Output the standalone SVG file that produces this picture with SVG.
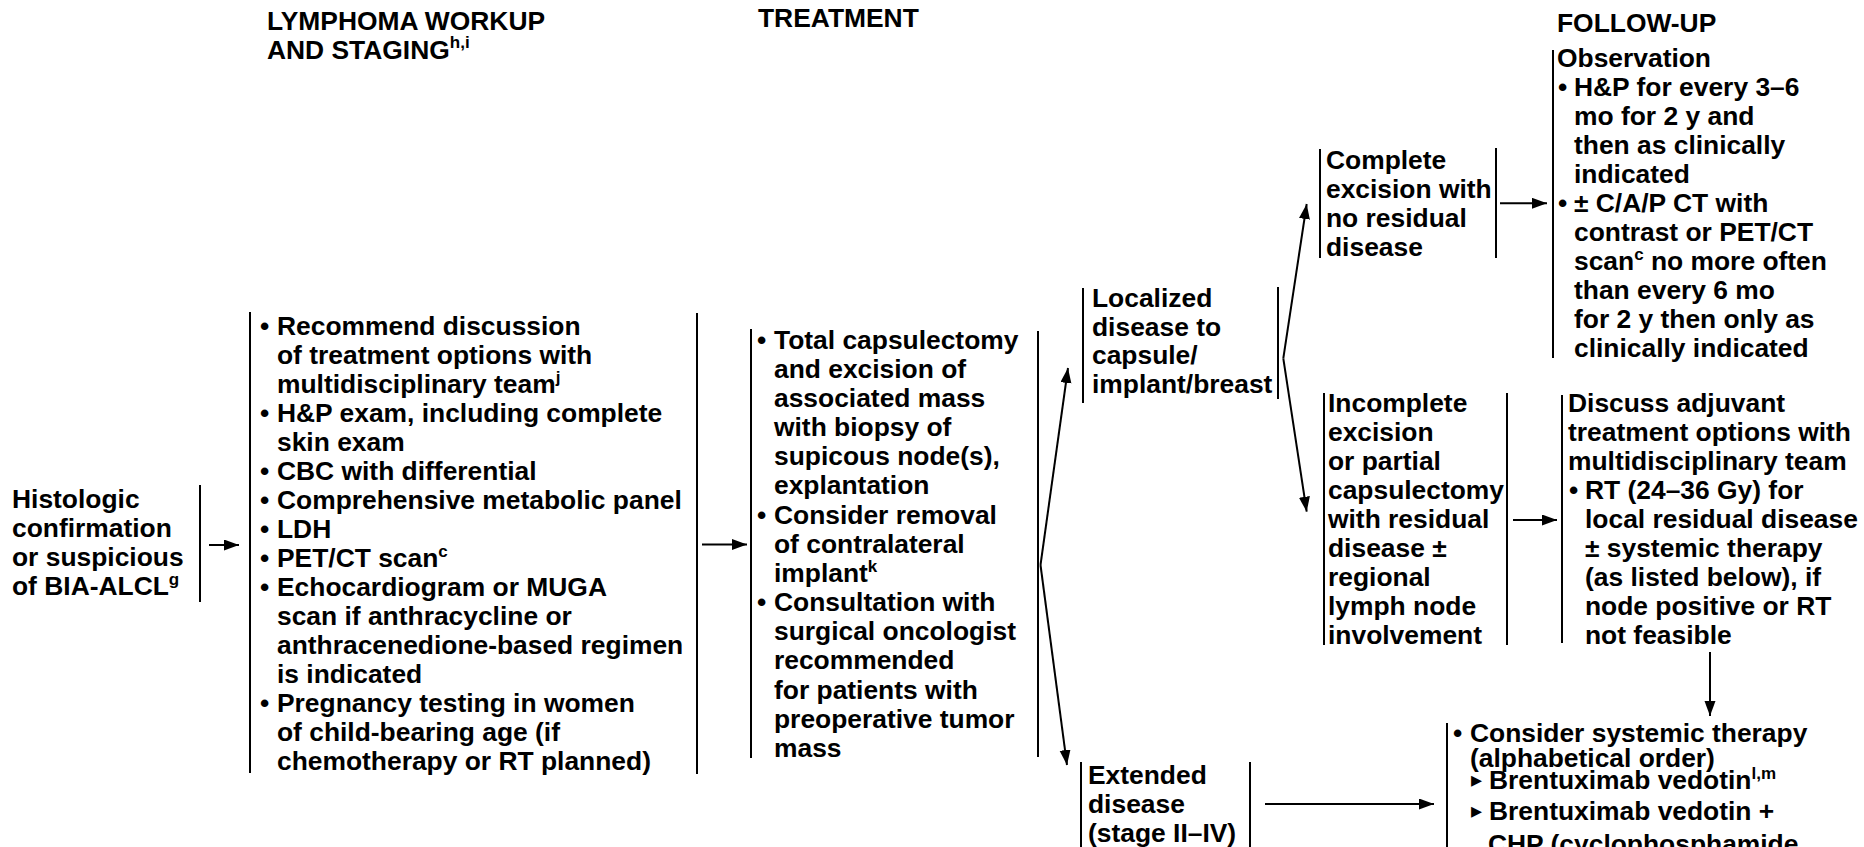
<svg xmlns="http://www.w3.org/2000/svg" width="1864" height="847" viewBox="0 0 1864 847">
  <defs>
    <style>
      text { font-family: "Liberation Sans", Arial, Helvetica, sans-serif; font-weight: bold; font-size: 26.4px; fill: #000; }
      .sup { font-size: 17px; }
      .tri { font-family: "DejaVu Sans", sans-serif; font-size: 22px; font-weight: normal; }
      .bar { stroke: #000; stroke-width: 2; fill: none; }
      .conn { stroke: #000; stroke-width: 2; fill: none; marker-end: url(#ah); }
    </style>
    <marker id="ah" markerUnits="userSpaceOnUse" markerWidth="16" markerHeight="12" refX="15" refY="5.5" orient="auto">
      <path d="M0,0 L15,5.5 L0,11 z" fill="#000"/>
    </marker>
  </defs>
  <rect width="1864" height="847" fill="#fff"/>

  <!-- column headings -->
  <g id="headings">
    <text x="267" y="30">LYMPHOMA WORKUP</text>
    <text x="267" y="59">AND STAGING<tspan class="sup" dy="-11">h,i</tspan></text>
    <text x="758" y="27">TREATMENT</text>
    <text x="1557" y="32">FOLLOW-UP</text>
  </g>

  <!-- entry point -->
  <g id="n-histologic">
    <text x="12" y="508">Histologic</text>
    <text x="12" y="537">confirmation</text>
    <text x="12" y="566">or suspicious</text>
    <text x="12" y="595">of BIA-ALCL<tspan class="sup" dy="-10">g</tspan></text>
    <line class="bar" x1="200" y1="485" x2="200" y2="602"/>
  </g>

  <!-- workup and staging -->
  <g id="n-workup">
    <line class="bar" x1="250" y1="312" x2="250" y2="773"/>
    <line class="bar" x1="697" y1="313" x2="697" y2="774"/>
    <text x="260" y="335">•</text>
    <text x="260" y="422">•</text>
    <text x="260" y="480">•</text>
    <text x="260" y="509">•</text>
    <text x="260" y="538">•</text>
    <text x="260" y="567">•</text>
    <text x="260" y="596">•</text>
    <text x="260" y="712">•</text>
    <text x="277" y="335">Recommend discussion</text>
    <text x="277" y="364">of treatment options with</text>
    <text x="277" y="393">multidisciplinary team<tspan class="sup" dy="-10">j</tspan></text>
    <text x="277" y="422">H&amp;P exam, including complete</text>
    <text x="277" y="451">skin exam</text>
    <text x="277" y="480">CBC with differential</text>
    <text x="277" y="509">Comprehensive metabolic panel</text>
    <text x="277" y="538">LDH</text>
    <text x="277" y="567">PET/CT scan<tspan class="sup" dy="-10">c</tspan></text>
    <text x="277" y="596">Echocardiogram or MUGA</text>
    <text x="277" y="625">scan if anthracycline or</text>
    <text x="277" y="654">anthracenedione-based regimen</text>
    <text x="277" y="683">is indicated</text>
    <text x="277" y="712">Pregnancy testing in women</text>
    <text x="277" y="741">of child-bearing age (if</text>
    <text x="277" y="770">chemotherapy or RT planned)</text>
  </g>

  <!-- primary treatment -->
  <g id="n-treatment">
    <line class="bar" x1="751" y1="329" x2="751" y2="758"/>
    <line class="bar" x1="1038" y1="331" x2="1038" y2="757"/>
    <text x="757" y="348.5">•</text>
    <text x="757" y="523.5">•</text>
    <text x="757" y="611">•</text>
    <text x="774" y="348.5">Total capsulectomy</text>
    <text x="774" y="377.7">and excision of</text>
    <text x="774" y="406.8">associated mass</text>
    <text x="774" y="436">with biopsy of</text>
    <text x="774" y="465.2">supicous node(s),</text>
    <text x="774" y="494.3">explantation</text>
    <text x="774" y="523.5">Consider removal</text>
    <text x="774" y="552.7">of contralateral</text>
    <text x="774" y="581.8">implant<tspan class="sup" dy="-10">k</tspan></text>
    <text x="774" y="611">Consultation with</text>
    <text x="774" y="640.2">surgical oncologist</text>
    <text x="774" y="669.3">recommended</text>
    <text x="774" y="698.5">for patients with</text>
    <text x="774" y="727.7">preoperative tumor</text>
    <text x="774" y="756.8">mass</text>
  </g>

  <!-- localized disease -->
  <g id="n-localized">
    <line class="bar" x1="1083" y1="288" x2="1083" y2="403"/>
    <line class="bar" x1="1278" y1="287" x2="1278" y2="399"/>
    <text x="1092" y="307">Localized</text>
    <text x="1092" y="335.7">disease to</text>
    <text x="1092" y="364.4">capsule/</text>
    <text x="1092" y="393">implant/breast</text>
  </g>

  <!-- extended disease -->
  <g id="n-extended">
    <line class="bar" x1="1081" y1="762" x2="1081" y2="847"/>
    <line class="bar" x1="1250" y1="762" x2="1250" y2="847"/>
    <text x="1088" y="784">Extended</text>
    <text x="1088" y="813">disease</text>
    <text x="1088" y="842">(stage II–IV)</text>
  </g>

  <!-- complete excision -->
  <g id="n-complete">
    <line class="bar" x1="1320" y1="149" x2="1320" y2="258"/>
    <line class="bar" x1="1496" y1="148" x2="1496" y2="258"/>
    <text x="1326" y="168.5">Complete</text>
    <text x="1326" y="197.7">excision with</text>
    <text x="1326" y="226.8">no residual</text>
    <text x="1326" y="256">disease</text>
  </g>

  <!-- incomplete excision -->
  <g id="n-incomplete">
    <line class="bar" x1="1324" y1="393" x2="1324" y2="645"/>
    <line class="bar" x1="1507" y1="393" x2="1507" y2="645"/>
    <text x="1328" y="411.7">Incomplete</text>
    <text x="1328" y="440.7">excision</text>
    <text x="1328" y="469.7">or partial</text>
    <text x="1328" y="498.7">capsulectomy</text>
    <text x="1328" y="527.7">with residual</text>
    <text x="1328" y="556.7">disease ±</text>
    <text x="1328" y="585.7">regional</text>
    <text x="1328" y="614.7">lymph node</text>
    <text x="1328" y="643.7">involvement</text>
  </g>

  <!-- observation follow-up -->
  <g id="n-observation">
    <line class="bar" x1="1553" y1="50" x2="1553" y2="358"/>
    <text x="1557" y="66.7">Observation</text>
    <text x="1558" y="95.8">•</text>
    <text x="1558" y="212">•</text>
    <text x="1574" y="95.8">H&amp;P for every 3–6</text>
    <text x="1574" y="124.8">mo for 2 y and</text>
    <text x="1574" y="153.9">then as clinically</text>
    <text x="1574" y="183">indicated</text>
    <text x="1574" y="212">± C/A/P CT with</text>
    <text x="1574" y="241.1">contrast or PET/CT</text>
    <text x="1574" y="270.2">scan<tspan class="sup" dy="-10">c</tspan><tspan dy="10"> no more often</tspan></text>
    <text x="1574" y="299.3">than every 6 mo</text>
    <text x="1574" y="328.3">for 2 y then only as</text>
    <text x="1574" y="357.4">clinically indicated</text>
  </g>

  <!-- adjuvant treatment discussion -->
  <g id="n-adjuvant">
    <line class="bar" x1="1562" y1="395" x2="1562" y2="643"/>
    <text x="1568" y="411.7">Discuss adjuvant</text>
    <text x="1568" y="440.7">treatment options with</text>
    <text x="1568" y="469.7">multidisciplinary team</text>
    <text x="1569" y="498.7">•</text>
    <text x="1585" y="498.7">RT (24–36 Gy) for</text>
    <text x="1585" y="527.7">local residual disease</text>
    <text x="1585" y="556.7">± systemic therapy</text>
    <text x="1585" y="585.7">(as listed below), if</text>
    <text x="1585" y="614.7">node positive or RT</text>
    <text x="1585" y="643.7">not feasible</text>
  </g>

  <!-- systemic therapy -->
  <g id="n-systemic">
    <line class="bar" x1="1447" y1="723" x2="1447" y2="847"/>
    <text x="1453" y="741.7">•</text>
    <text x="1470" y="741.7">Consider systemic therapy</text>
    <text x="1470" y="766.7">(alphabetical order)</text>
    <text class="tri" x="1471" y="787">▸</text>
    <text x="1489" y="789.3">Brentuximab vedotin<tspan class="sup" dy="-10">l,m</tspan></text>
    <text class="tri" x="1471" y="818">▸</text>
    <text x="1489" y="820">Brentuximab vedotin +</text>
    <text x="1488" y="853">CHP (cyclophosphamide,</text>
  </g>

  <!-- connectors -->
  <g id="connectors">
    <line class="conn" x1="209" y1="545" x2="239" y2="545"/>
    <line class="conn" x1="702" y1="544.5" x2="747" y2="544.5"/>
    <path class="conn" d="M1040.5,565 L1068,368"/>
    <path class="conn" d="M1040.5,565 L1067,765"/>
    <path class="conn" d="M1283.3,358.3 L1306.7,204"/>
    <path class="conn" d="M1283.3,358.3 L1306.7,511.7"/>
    <line class="conn" x1="1500" y1="203.3" x2="1547" y2="203.3"/>
    <line class="conn" x1="1513" y1="520" x2="1557" y2="520"/>
    <line class="conn" x1="1710" y1="652" x2="1710" y2="716"/>
    <line class="conn" x1="1265" y1="804" x2="1434" y2="804"/>
  </g>
</svg>
